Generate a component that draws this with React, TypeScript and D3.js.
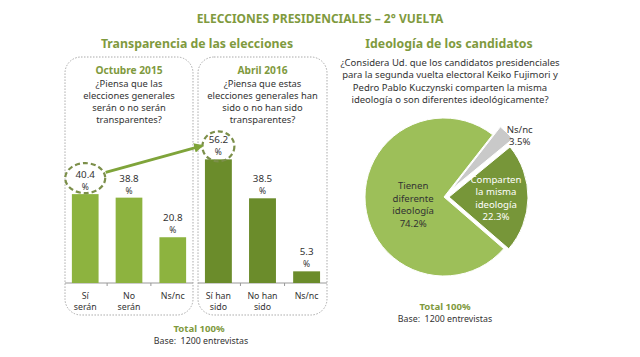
import React from "react";
import * as d3 from "d3";

const titleText = "ELECCIONES PRESIDENCIALES – 2° VUELTA";
const leftTitle = "Transparencia de las elecciones";
const rightTitle = "Ideología de los candidatos";

const panel1Header = "Octubre 2015";
const panel1Question = ["¿Piensa que las", "elecciones generales", "serán o no serán", "transparentes?"];
const panel1Cats = [["Sí", "serán"], ["No", "serán"], ["Ns/nc"]];
const panel1Values = [40.4, 38.8, 20.8];

const panel2Header = "Abril 2016";
const panel2Question = ["¿Piensa que estas", "elecciones generales han", "sido o no han sido", "transparentes?"];
const panel2Cats = [["Sí  han", "sido"], ["No han", "sido"], ["Ns/nc"]];
const panel2Values = [56.2, 38.5, 5.3];

const pieQuestion = [
  "¿Considera Ud. que los candidatos presidenciales",
  "para la segunda vuelta electoral Keiko Fujimori y",
  "Pedro Pablo Kuczynski comparten la misma",
  "ideología o son diferentes ideológicamente?",
];
const pieNames = ["Ns/nc", "Comparten la misma ideología", "Tienen diferente ideología"];
const pieLabelLines = [["Ns/nc", "3.5%"], ["Comparten", "la misma", "ideología", "22.3%"], ["Tienen", "diferente", "ideología", "74.2%"]];
const pieValues = [3.5, 22.3, 74.2];

const totalText = "Total 100%";
const baseText = "Base:  1200 entrevistas";

const GREEN_TEXT = "#7f9a3e";
const DARK = "#333";
const FONT = "'Noto Sans', 'DejaVu Sans', sans-serif";

function BarPanel({ x0, x1, header, question, cats, values, color, y }) {
  const keys = cats.map((c, i) => String(i));
  const xs = d3.scaleBand().domain(keys).range([x0 - 1, x1 + 1]).paddingInner(0.39).paddingOuter(0.18);
  const cx = (x0 + x1) / 2;
  const base = y(0);
  return (
    <g>
      <rect x={x0} y={57} width={x1 - x0} height={258} rx={16} ry={16} fill="none" stroke="#aaa" strokeWidth={1} strokeDasharray="1.5 1.5" />
      <text x={cx} y={74} textAnchor="middle" fontSize={10.2} fontWeight="bold" fill={GREEN_TEXT}>{header}</text>
      {question.map((q, i) => (
        <text key={i} x={cx} y={86.5 + i * 12} textAnchor="middle" fontSize={9.4} fill={DARK}>{q}</text>
      ))}
      <line x1={x0} x2={x1} y1={base} y2={base} stroke="#999" strokeWidth={1} />
      {keys.slice(1).map((k) => (
        <line key={k} x1={xs(k) - xs.step() * xs.paddingInner() / 2} x2={xs(k) - xs.step() * xs.paddingInner() / 2} y1={base} y2={base + 3} stroke="#999" />
      ))}
      {values.map((v, i) => {
        const bx = xs(keys[i]);
        const bw = xs.bandwidth();
        const mid = bx + bw / 2;
        return (
          <g key={i}>
            <rect x={bx} y={y(v)} width={bw} height={base - y(v)} fill={color} />
            <text x={mid} y={y(v) - 16} textAnchor="middle" fontSize={9.8} fill={DARK}>{v.toFixed(1)}</text>
            <text x={mid} y={y(v) - 4} textAnchor="middle" fontSize={8.5} fill={DARK}>%</text>
            {cats[i].map((t, j) => (
              <text key={j} x={mid} y={299 + j * 10.5} textAnchor="middle" fontSize={8.8} fill={DARK}>{t}</text>
            ))}
          </g>
        );
      })}
    </g>
  );
}

export default function App() {
  const y = d3.scaleLinear().domain([0, 60]).range([283, 151]);

  const xs1 = d3.scaleBand().domain(["0", "1", "2"]).range([64, 194]).paddingInner(0.39).paddingOuter(0.18);
  const xs2 = d3.scaleBand().domain(["0", "1", "2"]).range([197, 328]).paddingInner(0.39).paddingOuter(0.18);

  const c1 = { x: xs1("0") + xs1.bandwidth() / 2, y: y(panel1Values[0]) - 16, rx: 20, ry: 15 };
  const c2 = { x: xs2("0") + xs2.bandwidth() / 2, y: y(panel2Values[0]) - 13, rx: 16, ry: 15 };
  const ang = Math.atan2(c2.y - c1.y, c2.x - c1.x);
  const ax1 = c1.x + (c1.rx + 1) * Math.cos(ang);
  const ay1 = c1.y + (c1.ry + 1) * Math.sin(ang) - 2;
  const ax2 = c2.x - (c2.rx + 1) * Math.cos(ang);
  const ay2 = c2.y - (c2.ry) * Math.sin(ang) - 4;

  // pie
  const pcx = 444;
  const pcy = 197;
  const R = 79;
  const startDeg = 38;
  const pie = d3.pie<number>().sort(null).startAngle((startDeg * Math.PI) / 180).endAngle(((startDeg + 360) * Math.PI) / 180);
  const arcsData = pie(pieValues);
  const arc = d3.arc<any>().innerRadius(0).outerRadius(R);
  const pieColors = ["#c9c9c9", "#779639", "#9dbf59"];
  const explode = [11, 5, 0];
  const labelColors = [DARK, "#ffffff", DARK];

  return (
    <svg width={640} height={357} style={{ position: "absolute", left: 0, top: 0, background: "#fff" }} fontFamily={FONT}>
      <rect width={640} height={357} fill="#fff" />
      <text x={320} y={23} textAnchor="middle" fontSize={12} fontWeight="bold" fill={GREEN_TEXT}>{titleText}</text>
      <text x={197} y={48} textAnchor="middle" fontSize={12.3} fontWeight="bold" fill={GREEN_TEXT}>{leftTitle}</text>
      <text x={449} y={48} textAnchor="middle" fontSize={12.3} fontWeight="bold" fill={GREEN_TEXT}>{rightTitle}</text>

      <BarPanel x0={65} x1={193} header={panel1Header} question={panel1Question} cats={panel1Cats} values={panel1Values} color="#8db33f" y={y} />
      <BarPanel x0={198} x1={327} header={panel2Header} question={panel2Question} cats={panel2Cats} values={panel2Values} color="#6b8c2b" y={y} />

      <defs>
        <marker id="ah" viewBox="0 0 10 10" refX={8} refY={5} markerWidth={3.2} markerHeight={3.2} orient="auto">
          <path d="M0,0 L10,5 L0,10 z" fill="#7fa43a" />
        </marker>
      </defs>
      <ellipse cx={c1.x} cy={c1.y} rx={c1.rx} ry={c1.ry} fill="none" stroke="#7c8f4a" strokeWidth={2.2} strokeDasharray="5 3" />
      <ellipse cx={c2.x} cy={c2.y} rx={c2.rx} ry={c2.ry} fill="none" stroke="#7c8f4a" strokeWidth={2.2} strokeDasharray="5 3" />
      <line x1={ax1} y1={ay1} x2={ax2} y2={ay2} stroke="#7fa43a" strokeWidth={3} markerEnd="url(#ah)" />

      <text x={199} y={332} textAnchor="middle" fontSize={9.6} fontWeight="bold" fill={GREEN_TEXT}>{totalText}</text>
      <text x={201} y={344} textAnchor="middle" fontSize={8.8} fill={DARK} style={{ whiteSpace: "pre" }}>{baseText}</text>

      {pieQuestion.map((q, i) => (
        <text key={i} x={450} y={66 + i * 12.3} textAnchor="middle" fontSize={9.5} fill={DARK}>{q}</text>
      ))}

      <g>
        {arcsData.map((d, i) => {
          const mid = (d.startAngle + d.endAngle) / 2;
          const ox = Math.sin(mid) * explode[i];
          const oy = -Math.cos(mid) * explode[i];
          return (
            <path key={pieNames[i]} d={arc(d) || ""} transform={`translate(${pcx + ox},${pcy + oy})`} fill={pieColors[i]} stroke="#fff" strokeWidth={1} />
          );
        })}
        {arcsData.map((d, i) => {
          const mid = (d.startAngle + d.endAngle) / 2;
          const ox = Math.sin(mid) * explode[i];
          const oy = -Math.cos(mid) * explode[i];
          let lx: number, ly: number;
          if (i === 0) {
            lx = pcx + Math.sin(d.endAngle) * 98;
            ly = pcy - Math.cos(d.endAngle) * 98;
          } else {
            const r = i === 1 ? 47 : 31;
            const la = d3.arc<any>().innerRadius(r).outerRadius(r);
            const [cxp, cyp] = la.centroid(d);
            lx = pcx + ox + cxp;
            ly = pcy + oy + cyp + (i === 2 ? 4 : 0);
          }
          const lines = pieLabelLines[i];
          const lh = 12.4;
          const top = ly - ((lines.length - 1) * lh) / 2;
          return (
            <g key={"l" + i}>
              {lines.map((t, j) => (
                <text key={j} x={lx} y={top + j * lh + 4} textAnchor="middle" fontSize={9.6} fill={labelColors[i]}>{t}</text>
              ))}
            </g>
          );
        })}
      </g>

      <text x={445} y={310} textAnchor="middle" fontSize={9.6} fontWeight="bold" fill={GREEN_TEXT}>{totalText}</text>
      <text x={445} y={322} textAnchor="middle" fontSize={8.8} fill={DARK} style={{ whiteSpace: "pre" }}>{baseText}</text>
    </svg>
  );
}
